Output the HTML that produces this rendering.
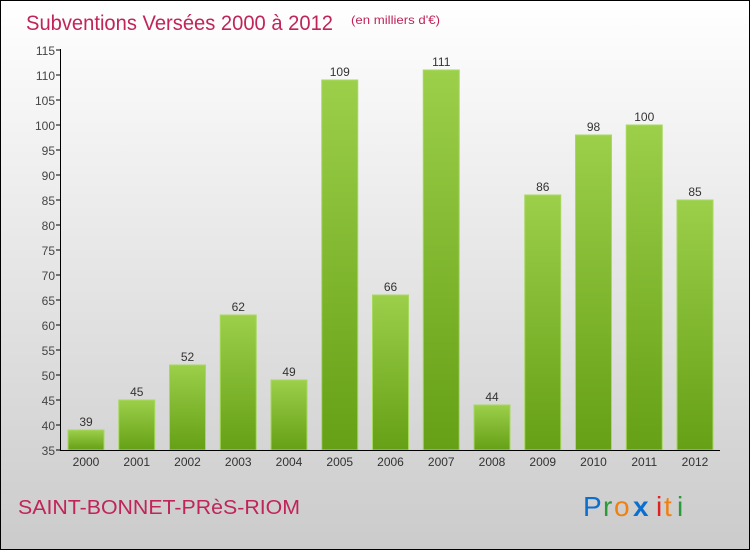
<!DOCTYPE html>
<html><head><meta charset="utf-8"><style>
body{margin:0;width:750px;height:550px;overflow:hidden;font-family:"Liberation Sans",sans-serif}
</style></head><body>
<svg width="750" height="550" xmlns="http://www.w3.org/2000/svg">
<defs>
<linearGradient id="bg" x1="0" y1="0" x2="0" y2="1"><stop offset="0" stop-color="#ffffff"/><stop offset="1" stop-color="#cbcbcb"/></linearGradient>
<linearGradient id="bar" x1="0" y1="0" x2="0" y2="1"><stop offset="0" stop-color="#9ccf4a"/><stop offset="1" stop-color="#65a016"/></linearGradient>
</defs>
<rect x="0.5" y="0.5" width="749" height="549" fill="url(#bg)" stroke="#000"/>
<text x="26" y="30" font-size="21" fill="#c0245a" textLength="307" lengthAdjust="spacingAndGlyphs">Subventions Versées 2000 à 2012</text>
<text x="351" y="24" font-size="12" fill="#c0245a" textLength="89" lengthAdjust="spacingAndGlyphs">(en milliers d'€)</text>
<g id="plot"></g>
<text x="18" y="514" font-size="20" fill="#c0245a" textLength="282" lengthAdjust="spacingAndGlyphs">SAINT-BONNET-PRèS-RIOM</text>
<g font-size="28" font-family="'Liberation Sans',sans-serif">
<text x="583" y="516" fill="#0a6fd0">P</text><text x="603" y="516" fill="#2a9a3a">r</text><text x="614" y="516" fill="#f08010">o</text><text x="633" y="516" fill="#0a6fd0" font-weight="bold">x</text><text x="656" y="516" fill="#e02020">i</text><text x="664" y="516" fill="#f08010">t</text><text x="677" y="516" fill="#2a9a3a">i</text>
</g>
</svg>
<script>
const categories=["2000","2001","2002","2003","2004","2005","2006","2007","2008","2009","2010","2011","2012"];
const values=[39,45,52,62,49,109,66,111,44,86,98,100,85];
const yTicks=[35,40,45,50,55,60,65,70,75,80,85,90,95,100,105,110,115];
const NS="http://www.w3.org/2000/svg";
const g=document.getElementById("plot");
const y=v=>450-(v-35)*5;
const x=i=>86+i*50.75;
function el(t,a,txt){const e=document.createElementNS(NS,t);for(const k in a)e.setAttribute(k,a[k]);if(txt!=null)e.textContent=txt;g.appendChild(e);return e;}
yTicks.forEach(t=>{
 const l=el("line",{x1:56,x2:61,y1:y(t),y2:y(t),stroke:"#000"});
 
 
 const tx=el("text",{x:55,y:y(t)+5,"text-anchor":"end","font-size":12,fill:"#444"},t);
 
 
});
categories.forEach((c,i)=>{
 const v=values[i];
 const r=el("rect",{x:x(i)-18,y:y(v),width:36,height:450-y(v),fill:"url(#bar)",stroke:"#a8d860","stroke-width":1});
 
 
 const vl=el("text",{x:x(i),y:y(v)-4,"text-anchor":"middle","font-size":12,fill:"#333"},v);
 
 
 const xl=el("text",{x:x(i),y:466,"text-anchor":"middle","font-size":12,fill:"#333"},c);
 
 
});
const ya=el("line",{x1:60.5,x2:60.5,y1:49,y2:450,stroke:"#000"});


const xa=el("line",{x1:60,x2:720,y1:450.5,y2:450.5,stroke:"#000"});


</script>
</body></html>
